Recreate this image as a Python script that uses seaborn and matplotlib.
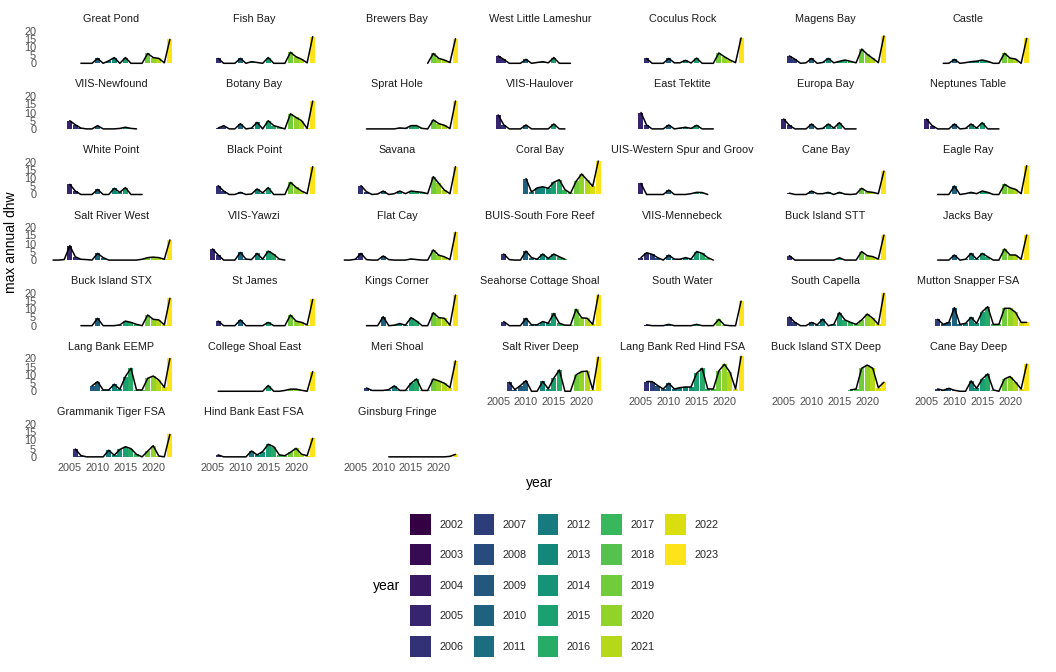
import numpy as np
import pandas as pd
import matplotlib
matplotlib.use("Agg")
import matplotlib.pyplot as plt
from matplotlib.patches import Patch
import seaborn as sns

NA = np.nan

years = [2002, 2003, 2004, 2005, 2006, 2007, 2008, 2009, 2010, 2011, 2012,
         2013, 2014, 2015, 2016, 2017, 2018, 2019, 2020, 2021, 2022, 2023]

# max annual dhw per site, one value per year 2002..2023 (NA = no data)
great_pond = [NA, NA, NA, NA, NA, 0, 0, 0, 3, 0, 1.5, 3.5, 0, 3.5, 0, 0, 0, 6, 3.5, 3, 0.3, 14.6]
fish_bay = [NA, NA, NA, NA, 3, 0, 0, 0, 3, 0, 1, 0.5, 0, 3.5, 0, 0, 0, 6.7, 4, 2.5, 0.3, 16.3]
brewers_bay = [NA, NA, NA, NA, NA, NA, NA, NA, NA, NA, NA, NA, NA, NA, NA, NA, 0, 6, 3, 2, 0.5, 15]
west_little_lameshur = [NA, NA, NA, 4.5, 2.4, 0, 0, 0, 2.4, 0, 0.5, 1, 0.3, 3.5, 0, 0, 0, NA, NA, NA, NA, NA]
coculus_rock = [NA, NA, NA, NA, 3, 0, 0, 0, 3, 0.3, 0.3, 1.8, 0.2, 3.2, 0, 0, 0, 6.3, 4, 2, 0.4, 15.5]
magens_bay = [NA, NA, NA, NA, 4.5, 2.5, 0, 0.3, 3, 0, 0.5, 3, 0.3, 1.2, 2, 1.2, 0.3, 8.7, 5.5, 3, 0.4, 16.7]
castle = [NA, NA, NA, NA, NA, NA, 0, 0, 2.4, 0, 0.4, 1, 1.3, 2, 1.2, 0, 0, 6.1, 3.2, 2.6, 0, 15.2]
viis_newfound = [NA, NA, NA, 5, 2.5, 0.5, 0, 0, 2, 0, 0, 0, 0.3, 1, 0.3, 0, NA, NA, NA, NA, NA, NA]
botany_bay = [NA, NA, NA, NA, 0.5, 2, 0, 0, 3.2, 0, 0.5, 4, 0, 5, 2, 1, 0, 9.2, 7, 5, 0.3, 17]
sprat_hole = [NA, NA, NA, NA, NA, 0, 0, 0, 0, 0, 0, 0.6, 0.3, 2, 2, 0.3, 0, 5.5, 3.2, 2.2, 0.2, 17]
viis_haulover = [NA, NA, NA, 8.5, 2.5, 0, 0, 0, 2.4, 0, 0, 0, 0, 3, 0, 0, NA, NA, NA, NA, NA, NA]
east_tektite = [NA, NA, NA, 10, 2.4, 0, 0, 0, 2.4, 0, 0.5, 1, 0.3, 2.2, 0, 0, 0, NA, NA, NA, NA, NA]
europa_bay = [NA, NA, NA, 6, 2.2, 0, 0, 0, 3, 0, 0.3, 3, 0.5, 3.8, 0, 0, 0, NA, NA, NA, NA, NA]
neptunes_table = [NA, NA, NA, 6, 2, 0, 0, 0, 3, 0, 0.3, 3, 0.5, 3.8, 0, 0, 0, NA, NA, NA, NA, NA]
white_point = [NA, NA, NA, 6.2, 2.1, 0, 0, 0, 3.1, 0, 0, 3.8, 1.3, 4.2, 0, 0, 0, NA, NA, NA, NA, NA]
black_point = [NA, NA, NA, NA, 5.4, 2.1, 0, 0, 1.3, 0, 0.3, 3.4, 1, 4.2, 0, 0, 0, 7.4, 4.4, 2.1, 0.5, 17]
savana = [NA, NA, NA, NA, 5.4, 1.7, 0, 0.3, 2.1, 0, 0.5, 2.1, 0.5, 2.1, 1.7, 1.3, 0.5, 10.9, 6.8, 2.7, 0.5, 17]
coral_bay = [NA, NA, NA, NA, NA, NA, NA, NA, 9.7, 1.5, 4, 4.7, 3.8, 7.5, 9, 3, 0.7, 8, 12.5, 8.8, 5, 20.4]
uis_western_spur = [NA, NA, NA, 6.8, 0, 0, 0, 0, 2.7, 0, 0, 0, 0.5, 1.3, 1.2, 0, NA, NA, NA, NA, NA, NA]
cane_bay = [NA, NA, NA, NA, 0.8, 0, 0, 0, 2.1, 0.5, 0.5, 1.3, 0, 1.3, 0.2, 0, 0.3, 3.8, 1.7, 1.3, 0.5, 14.3]
eagle_ray = [NA, NA, NA, NA, NA, 0, 0, 0, 5.2, 0, 0.5, 1.3, 0.5, 2.1, 1.3, 0, 0, 6.2, 4.2, 3.1, 0.5, 17.6]
salt_river_west = [0, 0, 0.3, 8.8, 2, 0.5, 0.3, 0, 4.1, 1.5, 0, 0, 0, 0, 0, 0, 0.5, 1.5, 1.8, 1.5, 0.5, 12.3]
viis_yawzi = [NA, NA, NA, 6.8, 3.1, 0, 0, 0, 4.7, 0.6, 0.3, 4.1, 0.6, 5.5, 3.5, 0.6, 0, NA, NA, NA, NA, NA]
flat_cay = [NA, 0, 0, 0.5, 4.1, 0.3, 0, 0, 2.5, 0.3, 0, 0, 0, 0.7, 0.3, 0, 0, 6.2, 3, 2, 0.3, 16.9]
buis_south_fore = [NA, NA, NA, NA, 3.7, 0.3, 0, 0, 5.5, 1.5, 0.5, 3.7, 1, 3.7, 2, 0.5, NA, NA, NA, NA, NA, NA]
viis_mennebeck = [NA, NA, NA, 1.5, 4.5, 3.5, 1.5, 0, 3, 0.6, 0.5, 1.5, 0.6, 5.2, 4.1, 1.5, 0, NA, NA, NA, NA, NA]
buck_island_stt = [NA, NA, NA, NA, 2.7, 0, 0, 0, 0, 0, 0, 0, 0, 1.4, 0, 0, 0, 5.2, 2.7, 2.1, 0.6, 15.3]
jacks_bay = [NA, NA, NA, NA, NA, 0, 0, 0, 3.1, 0, 0.5, 4.1, 0.6, 4.1, 2, 0, 0, 6.8, 3.1, 3.1, 0.6, 15.3]
buck_island_stx = [NA, NA, NA, NA, NA, 0, 0, 0, 4.5, 0, 0, 0, 0.5, 2.8, 2, 0.8, 0, 6.5, 3.9, 3.5, 0.5, 16.7]
st_james = [NA, NA, NA, NA, 2.8, 0, 0, 0, 3.5, 0, 0, 0, 0, 2, 0, 0, 0, 6.5, 2.8, 2, 0.5, 16]
kings_corner = [NA, NA, NA, NA, NA, 0, 0, 0, 5.5, 0, 0.3, 1.3, 0.3, 4.9, 2.8, 0, 0, 7.9, 4.9, 4.5, 0.3, 18.7]
seahorse_cottage = [NA, NA, NA, NA, 2.5, 0, 0, 0, 4.5, 0.5, 0.5, 2.5, 1.5, 7.5, 1.5, 0.3, 0.3, 10, 4.8, 4.5, 0.8, 18.7]
south_water = [NA, NA, NA, NA, 0.5, 0, 0, 0, 0.8, 0, 0, 0, 0, 0.8, 0, 0, 0, 3.9, 0.4, 0, 0, 15]
south_capella = [NA, NA, NA, NA, 5.3, 2, 0, 0, 2, 0.5, 4, 0, 0.8, 8, 3.5, 2, 0.8, 3.5, 7.1, 4.5, 0.8, 19.7]
mutton_snapper = [NA, NA, NA, NA, NA, 3.9, 0.8, 2, 11, 0.8, 1.4, 5.1, 1.4, 8.5, 11.6, 0.8, 0.8, 10.6, 10.6, 8.1, 2, 2]
lang_bank_eemp = [NA, NA, NA, NA, NA, NA, NA, 3.3, 5.9, 0.8, 0.8, 4.3, 1.2, 9, 14, 0.8, 0.8, 7.9, 9.3, 6.9, 2.4, 20]
college_shoal = [NA, NA, NA, NA, 0, 0, 0, 0, 0, 0, 0, 0, 0, 3.5, 0, 0, 0.5, 1.3, 1.3, 0.6, 0, 12]
meri_shoal = [NA, NA, NA, NA, NA, 2, 0.5, 0.5, 0.5, 1, 3.3, 0.5, 0.5, 4.9, 7.5, 0.5, 0.5, 7.5, 6.3, 4.9, 2.2, 18.5]
salt_river_deep = [NA, NA, NA, NA, NA, 5.5, 1, 3.5, 6.5, 0, 0, 6, 1.5, 8, 13, 0, 0, 10, 12, 12.3, 1, 20.8]
lang_bank_red_hind = [NA, NA, NA, NA, 5.9, 5.9, 3.5, 1.4, 4.9, 1.4, 2.2, 2.6, 2.6, 11, 14, 1.4, 1.4, 12.4, 16.5, 11.6, 1.4, 21.3]
buck_island_stx_deep = [NA, NA, NA, NA, NA, NA, NA, NA, NA, NA, NA, NA, NA, NA, NA, 0.8, 1.4, 14, 16, 14, 2.2, 5.5]
cane_bay_deep = [NA, NA, NA, NA, NA, 1.4, 0.6, 1.8, 0.6, 0, 0, 6.3, 1.8, 7.5, 10.6, 0.8, 0, 7.5, 9, 5.5, 1.4, 16.5]
grammanik_tiger = [NA, NA, NA, NA, 4.8, 0.8, 0, 0, 0, 0, 4, 1, 4.5, 6.2, 5, 1.5, 0, 3.5, 6.8, 0.5, 0, 13.7]
hind_bank_east = [NA, NA, NA, NA, 1.2, 0, 0, 0, 0, 0, 3.6, 1.2, 3.2, 7.7, 6.2, 1.2, 0.7, 2.8, 5.2, 1.6, 0.7, 11.3]
ginsburg_fringe = [NA, NA, NA, NA, NA, NA, NA, NA, NA, 0, 0, 0, 0, 0, 0, 0, 0, 0, 0, 0, 0.3, 1.5]

sites = [
    "Great Pond", "Fish Bay", "Brewers Bay", "West Little Lameshur", "Coculus Rock", "Magens Bay", "Castle",
    "VIIS-Newfound", "Botany Bay", "Sprat Hole", "VIIS-Haulover", "East Tektite", "Europa Bay", "Neptunes Table",
    "White Point", "Black Point", "Savana", "Coral Bay", "UIS-Western Spur and Groov", "Cane Bay", "Eagle Ray",
    "Salt River West", "VIIS-Yawzi", "Flat Cay", "BUIS-South Fore Reef", "VIIS-Mennebeck", "Buck Island STT", "Jacks Bay",
    "Buck Island STX", "St James", "Kings Corner", "Seahorse Cottage Shoal", "South Water", "South Capella", "Mutton Snapper FSA",
    "Lang Bank EEMP", "College Shoal East", "Meri Shoal", "Salt River Deep", "Lang Bank Red Hind FSA", "Buck Island STX Deep", "Cane Bay Deep",
    "Grammanik Tiger FSA", "Hind Bank East FSA", "Ginsburg Fringe",
]
series = [
    great_pond, fish_bay, brewers_bay, west_little_lameshur, coculus_rock, magens_bay, castle,
    viis_newfound, botany_bay, sprat_hole, viis_haulover, east_tektite, europa_bay, neptunes_table,
    white_point, black_point, savana, coral_bay, uis_western_spur, cane_bay, eagle_ray,
    salt_river_west, viis_yawzi, flat_cay, buis_south_fore, viis_mennebeck, buck_island_stt, jacks_bay,
    buck_island_stx, st_james, kings_corner, seahorse_cottage, south_water, south_capella, mutton_snapper,
    lang_bank_eemp, college_shoal, meri_shoal, salt_river_deep, lang_bank_red_hind, buck_island_stx_deep, cane_bay_deep,
    grammanik_tiger, hind_bank_east, ginsburg_fringe,
]

rows = []
for site, vals in zip(sites, series):
    for yr, v in zip(years, vals):
        if not np.isnan(v):
            rows.append((site, yr, v))
df = pd.DataFrame(rows, columns=["site", "year", "dhw"])

# viridis, slightly darkened the way the reference renders it
cmap = plt.get_cmap("viridis")
year_colors = {}
for i, yr in enumerate(years):
    r, gg, b, _ = cmap(i / (len(years) - 1))
    year_colors[yr] = (r ** 1.2, gg ** 1.2, b ** 1.2)

sns.set_theme(style="white")
plt.rcParams["font.family"] = ["Liberation Sans", "DejaVu Sans"]

W, H = 1056, 672
small = 7.8
NCOL = 7


def draw_site(data, **kws):
    ax = plt.gca()
    ax.bar(data["year"], data["dhw"], width=0.9,
           color=[year_colors[y] for y in data["year"]], linewidth=0)
    sns.lineplot(data=data, x="year", y="dhw", color="black", linewidth=1.1, ax=ax)


g = sns.FacetGrid(df, col="site", col_order=sites, col_wrap=NCOL,
                  sharex=True, sharey=True, height=1.0, aspect=2.0)
g.map_dataframe(draw_site)

# ggplot-like limits: bars span year +/- 0.45, 5% expansion
g.set(xlim=(2000.455, 2024.545), ylim=(-1.065, 22.365),
      xticks=[2005, 2010, 2015, 2020], yticks=[0, 5, 10, 15, 20])
g.set_axis_labels("", "")
g.set_titles("{col_name}", size=small, color="#1a1a1a", pad=3.5)
g.despine(left=True, bottom=True)
n = len(sites)
for i, ax in enumerate(g.axes.flat):
    first_col = i % NCOL == 0
    bottom = i + NCOL >= n
    ax.tick_params(axis="x", length=0, pad=3, labelsize=small, labelcolor="#4d4d4d",
                   labelbottom=bottom)
    ax.tick_params(axis="y", length=0, pad=6, labelsize=small, labelcolor="#4d4d4d",
                   labelleft=first_col)
    ax.grid(False)

fig = g.figure
fig.set_size_inches(W / 100, H / 100)
fig.subplots_adjust(left=44.5 / W, right=1035.3 / W, top=1 - 26.65 / H,
                    bottom=1 - 458.6 / H, wspace=0.0657, hspace=0.708)

fig.text(540 / W, 1 - 483 / H, "year", ha="center", va="center", fontsize=10, color="black")
fig.text(11 / W, 1 - 242.6 / H, "max annual dhw", rotation=90, ha="center", va="center",
         fontsize=10, color="black")

# legend, 5 rows filled column by column like ggplot
handles = [Patch(facecolor=year_colors[yr], edgecolor="none", label=str(yr)) for yr in years]
n_slots = 5 * int(np.ceil(len(handles) / 5))
handles += [Patch(facecolor="none", edgecolor="none", label="") for _ in range(n_slots - len(handles))]
fig.legend(handles=handles, ncol=5, loc="upper left", bbox_to_anchor=(410 / W, 1 - 514 / H),
           frameon=False, fontsize=small, handlelength=1.91, handleheight=2.56,
           handletextpad=0.77, labelspacing=0.905, columnspacing=0.98,
           borderpad=0, borderaxespad=0)
fig.text(373 / W, 1 - 585.7 / H, "year", ha="left", va="center", fontsize=10, color="black")

fig.savefig("out.png", dpi=100)
